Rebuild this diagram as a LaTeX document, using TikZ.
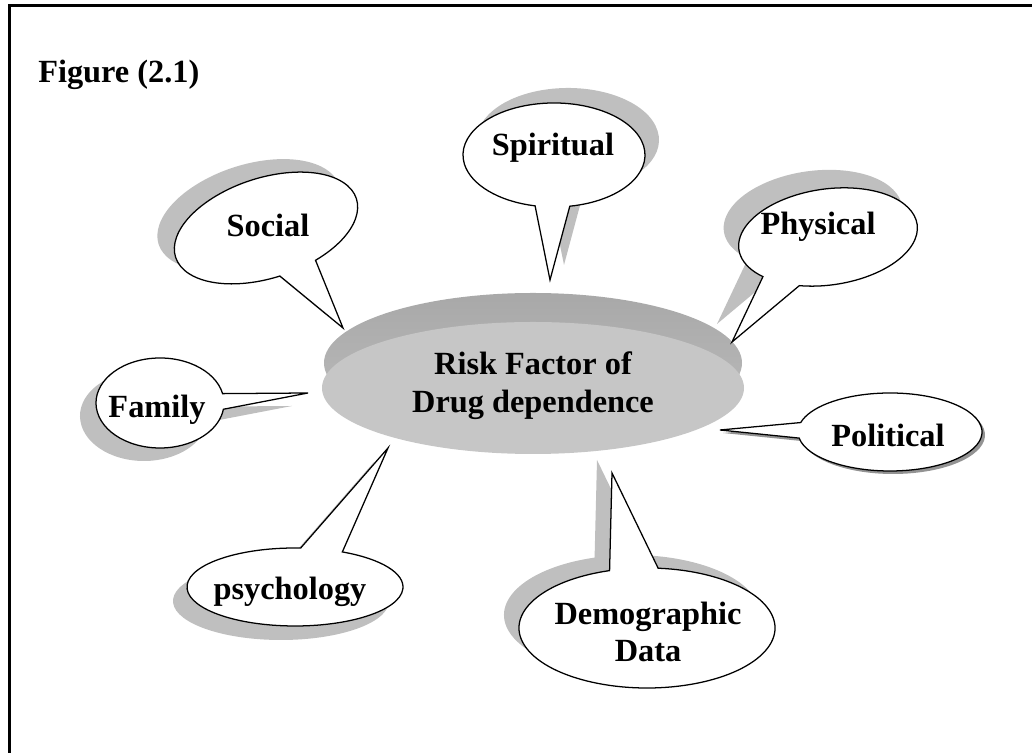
\documentclass[tikz,border=0pt]{standalone}
\usepackage{fontspec}
\setmainfont{Liberation Serif}
\usetikzlibrary{calc}

% outline of a speech bubble: centre, rotation, radii, arc angles, tip
\newcommand{\bubble}[7]{[shift={(#1)},rotate=#2] (#5:#3 and #4)
  arc[start angle=#5,end angle=#6,x radius=#3,y radius=#4] -- (#7) -- cycle}
% bubble with its shadow, #8 = shadow offset
\newcommand{\callout}[8]{%
  \fill[shadowfill,transform canvas={shift={(#8)}}] \bubble{#1}{#2}{#3}{#4}{#5}{#6}{#7};
  \draw[bubblefill] \bubble{#1}{#2}{#3}{#4}{#5}{#6}{#7};}

\begin{document}
\begin{tikzpicture}[x=0.025cm,y=0.025cm,
	lbl/.style={font=\fontsize{23}{26}\selectfont\bfseries,inner sep=0pt,align=center},
	bubblefill/.style={draw,fill=white,line width=0.9pt,line join=miter},
	shadowfill/.style={fill=gray!50}]
	\useasboundingbox (0,0) rectangle (1032,753);
	%\draw [help lines,step=50] (0,0) grid (1032,753);

	% frame
	\draw [line width=1.8pt] (1032,747.5) -| (9.5,0);
	\node[lbl,anchor=base west] (fig) at (38,670) {Figure (2.1)};

	% the disc in the middle
	\shade [top color=gray!68,bottom color=gray!52] (533,390) ellipse (209 and 70);
	\fill [gray!45] (533,365) ellipse (211 and 66);
	\node[lbl,font=\fontsize{23}{27}\selectfont\bfseries] (risk) at (533,367) {Risk Factor of\\Drug dependence};

	% tips of the bubbles
	\coordinate (socialtip) at (343,425);
	\coordinate (spirittip) at (550,473);
	\coordinate (phystip) at (732,411);
	\coordinate (famtip) at (308,360);
	\coordinate (poltip) at (720,323);
	\coordinate (psychtip) at (388,305);
	\coordinate (demotip) at (612,280);

	\callout{266,525}{18}{95}{50}{293}{629}{socialtip}{-17,13}
	\callout{554,598}{0}{91}{52}{280}{618}{spirittip}{14,15}
	\callout{828,516}{8}{90}{48}{247}{579}{phystip}{-15,18}
	\callout{160,350}{0}{64}{45}{12}{352}{famtip}{-16,-13}
	\callout{295,166}{0}{108}{39}{87}{424}{psychtip}{-14,-14}
	\callout{647,125}{0}{128}{60}{107}{445}{demotip}{-15,13}
	\begin{scope}[shadowfill/.style={fill=gray!85}]
		\callout{890,321}{0}{92}{39}{189}{526}{poltip}{3,-3}
	\end{scope}

	\node[lbl] (social) at (268,528) {Social};
	\node[lbl] (spirit) at (553,605) {Spiritual};
	\node[lbl] (phys) at (818,526) {Physical};
	\node[lbl] (fam) at (157,343) {Family};
	\node[lbl] (pol) at (888,318) {Political};
	\node[lbl] (psych) at (290,161) {psychology};
	\node[lbl] (demo) at (648,121) {Demographic\\Data};
\end{tikzpicture}
\end{document}
